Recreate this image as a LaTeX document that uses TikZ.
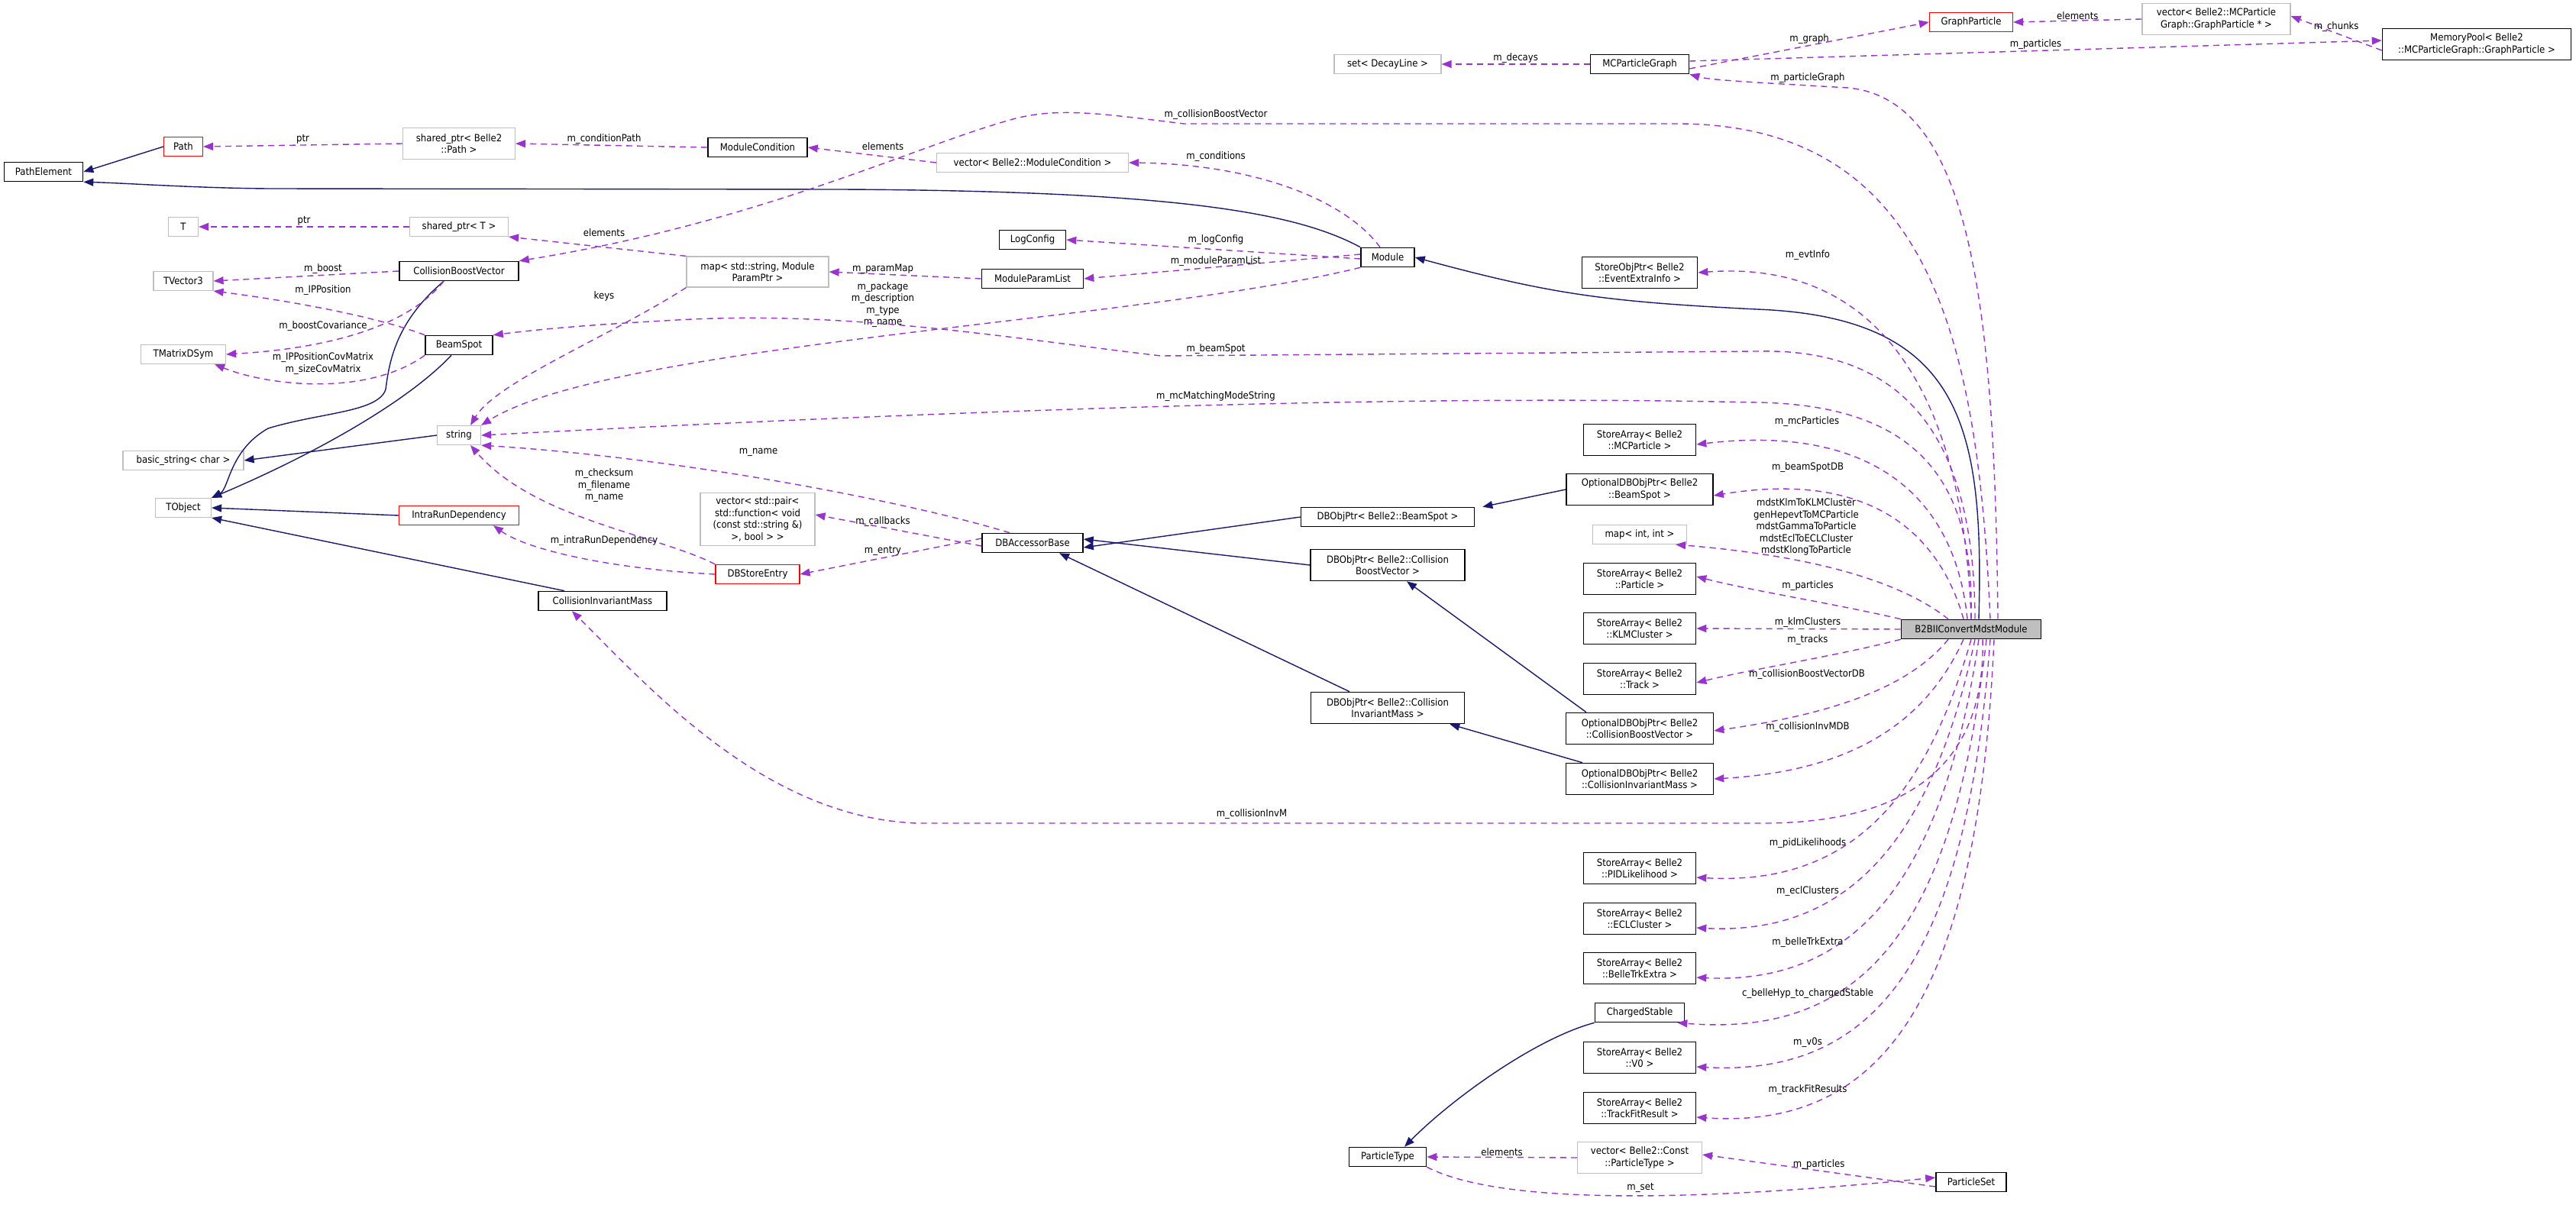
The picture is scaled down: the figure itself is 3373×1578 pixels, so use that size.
\documentclass[tikz,border=0pt]{standalone}
\usepackage{fontspec}
\setmainfont{DejaVu Sans Condensed}
\usetikzlibrary{arrows.meta}
\definecolor{purp}{HTML}{9A32CD}
\definecolor{inhc}{HTML}{191970}
\definecolor{grayb}{HTML}{BFBFBF}
\tikzset{
  box/.style={draw=black,line width=1.6pt,inner sep=3pt,align=center,minimum height=25pt,font=\fontsize{13}{15.5}\selectfont},
  cls/.style={box},
  ext/.style={box,draw=grayb,line width=1.2pt},
  redb/.style={box,draw=red,line width=1.2pt},
  mainb/.style={box,fill=grayb},
  inh/.style={draw=inhc,line width=1.4pt,-{Triangle[length=13pt,width=10pt]}},
  use/.style={draw=purp,line width=1.4pt,dash pattern=on 8pt off 6pt,-{Triangle[length=13pt,width=10pt]}},
  lab/.style={font=\fontsize{13}{15.5}\selectfont,align=center,inner sep=1pt}
}
\begin{document}
\begin{tikzpicture}[x=1pt,y=-1pt]
\useasboundingbox (0,0) rectangle (3373,1578);
% nodes
\node[cls,minimum width=103] (pe) at (57,225) {PathElement};
\node[redb,minimum width=51] (path) at (240,192) {Path};
\node[ext,minimum width=147,minimum height=41] (spp) at (601,188) {shared\_ptr< Belle2\\::Path >};
\node[cls,minimum width=130] (mc) at (992,193) {ModuleCondition};
\node[ext,minimum width=251] (vmc) at (1352,213) {vector< Belle2::ModuleCondition >};
\node[ext,minimum width=39] (T) at (240,297) {T};
\node[ext,minimum width=129] (spt) at (601,297) {shared\_ptr< T >};
\node[ext,minimum width=78] (tv3) at (240,368) {TVector3};
\node[cls,minimum width=156] (cbv) at (601,355) {CollisionBoostVector};
\node[ext,minimum width=186,minimum height=40] (map) at (992,356) {map< std::string, Module\\ParamPtr >};
\node[cls,minimum width=88] (bs) at (601,452) {BeamSpot};
\node[ext,minimum width=111] (tms) at (240,464) {TMatrixDSym};
\node[ext,minimum width=57] (str) at (601,570) {string};
\node[ext,minimum width=158] (bstr) at (240,603) {basic\_string< char >};
\node[ext,minimum width=73] (tobj) at (240,665) {TObject};
\node[redb,minimum width=157] (ird) at (601,675) {IntraRunDependency};
\node[ext,minimum width=150,minimum height=69] (vpair) at (992,680) {vector< std::pair<\\std::function< void\\(const std::string \&)\\>, bool > >};
\node[redb,minimum width=110] (dbse) at (992,752) {DBStoreEntry};
\node[cls,minimum width=168] (cim) at (789,787) {CollisionInvariantMass};
\node[cls,minimum width=87] (logc) at (1352,314) {LogConfig};
\node[cls,minimum width=133] (mpl) at (1352,365) {ModuleParamList};
\node[cls,minimum width=132] (dba) at (1352,711) {DBAccessorBase};
\node[ext,minimum width=140] (setd) at (1817,84) {set< DecayLine >};
\node[cls,minimum width=70] (mod) at (1817,337) {Module};
\node[cls,minimum width=227] (dbbs) at (1817,677) {DBObjPtr< Belle2::BeamSpot >};
\node[cls,minimum width=202,minimum height=41] (dbcbv) at (1817,740) {DBObjPtr< Belle2::Collision\\BoostVector >};
\node[cls,minimum width=201,minimum height=41] (dbcim) at (1817,927) {DBObjPtr< Belle2::Collision\\InvariantMass >};
\node[cls,minimum width=101] (pt) at (1817,1515) {ParticleType};
\node[cls,minimum width=129] (mcpg) at (2147,84) {MCParticleGraph};
\node[cls,minimum width=151,minimum height=41] (evt) at (2147,357) {StoreObjPtr< Belle2\\::EventExtraInfo >};
\node[cls,minimum width=147,minimum height=41] (samcp) at (2147,576) {StoreArray< Belle2\\::MCParticle >};
\node[cls,minimum width=192,minimum height=41] (obs) at (2147,641) {OptionalDBObjPtr< Belle2\\::BeamSpot >};
\node[ext,minimum width=123] (mii) at (2147,700) {map< int, int >};
\node[cls,minimum width=147,minimum height=41] (sap) at (2147,758) {StoreArray< Belle2\\::Particle >};
\node[cls,minimum width=147,minimum height=41] (saklm) at (2147,823) {StoreArray< Belle2\\::KLMCluster >};
\node[cls,minimum width=147,minimum height=41] (satr) at (2147,889) {StoreArray< Belle2\\::Track >};
\node[cls,minimum width=193,minimum height=41] (ocbv) at (2147,954) {OptionalDBObjPtr< Belle2\\::CollisionBoostVector >};
\node[cls,minimum width=193,minimum height=41] (ocim) at (2147,1020) {OptionalDBObjPtr< Belle2\\::CollisionInvariantMass >};
\node[cls,minimum width=147,minimum height=41] (sapid) at (2147,1137) {StoreArray< Belle2\\::PIDLikelihood >};
\node[cls,minimum width=147,minimum height=41] (saecl) at (2147,1203) {StoreArray< Belle2\\::ECLCluster >};
\node[cls,minimum width=147,minimum height=41] (sabte) at (2147,1268) {StoreArray< Belle2\\::BelleTrkExtra >};
\node[cls,minimum width=117] (cs) at (2147,1326) {ChargedStable};
\node[cls,minimum width=147,minimum height=41] (sav0) at (2147,1385) {StoreArray< Belle2\\::V0 >};
\node[cls,minimum width=147,minimum height=41] (satfr) at (2147,1451) {StoreArray< Belle2\\::TrackFitResult >};
\node[ext,minimum width=163,minimum height=41] (vpt) at (2147,1516) {vector< Belle2::Const\\::ParticleType >};
\node[redb,minimum width=109] (gp) at (2581,29) {GraphParticle};
\node[mainb,minimum width=183] (b2) at (2581,824) {B2BIIConvertMdstModule};
\node[cls,minimum width=92] (pset) at (2581,1548) {ParticleSet};
\node[ext,minimum width=194,minimum height=41] (vgp) at (2902,25) {vector< Belle2::MCParticle\\Graph::GraphParticle * >};
\node[cls,minimum width=247,minimum height=41] (mp) at (3243,58) {MemoryPool< Belle2\\::MCParticleGraph::GraphParticle >};

% inheritance
\draw[inh] (path.west) -- (pe.east);
\draw[inh] (mod.north west) .. controls (1700,280) and (1550,250) .. (1100,248) -- (350,247) .. controls (250,246) and (170,240) .. (pe.south east);
\draw[inh] ([xshift=10pt]b2.north) .. controls (2598,560) and (2570,415) .. (2300,405) .. controls (2100,395) and (2030,385) .. (mod.east);
\draw[inh] ([xshift=-20pt]cbv.south) .. controls (520,420) and (510,470) .. (505,510) .. controls (495,540) and (420,540) .. (351,561) .. controls (300,590) and (300,640) .. (tobj.north east);
\draw[inh] ([xshift=-10pt]bs.south) .. controls (530,530) and (400,600) .. (tobj.north east);
\draw[inh] (str.west) -- (bstr.east);
\draw[inh] (ird.west) -- (tobj.east);
\draw[inh] ([xshift=-50pt]cim.north) -- (tobj.south east);
\draw[inh] (dbbs.west) -- ([yshift=-6pt]dba.east);
\draw[inh] (dbcbv.west) -- ([yshift=5pt]dba.east);
\draw[inh] ([xshift=-50pt]dbcim.north) -- ([xshift=35pt]dba.south);
\draw[inh] (obs.west) -- ([xshift=10pt]dbbs.north east);
\draw[inh] ([xshift=-70pt]ocbv.north) -- ([xshift=25pt]dbcbv.south);
\draw[inh] ([xshift=-75pt]ocim.north) -- ([xshift=-20pt]dbcim.south east);
\draw[inh] (cs.south west) .. controls (2010,1360) and (1900,1440) .. ([xshift=22pt]pt.north);

% usage
\draw[use] (spp.west) -- node[lab,above]{ptr} (path.east);
\draw[use] (mc.west) -- (spp.east);
\node[lab] at (791,182) {m\_conditionPath};
\draw[use] (vmc.west) -- (mc.east);
\node[lab] at (1156,192) {elements};
\draw[use] ([xshift=-10pt]mod.north) .. controls (1760,260) and (1640,215) .. (vmc.east);
\node[lab] at (1592,205) {m\_conditions};
\draw[use] (spt.west) -- node[lab,above]{ptr} (T.east);
\draw[use] (map.north west) -- (spt.south east);
\node[lab] at (791,305) {elements};
\draw[use] ([xshift=25pt]b2.north) .. controls (2590,450) and (2530,165) .. (2200,162) -- (1550,162) .. controls (1450,150) and (1390,140) .. (1330,155) .. controls (1200,190) and (1000,290) .. (cbv.north east);
\node[lab] at (1592,150) {m\_collisionBoostVector};
\draw[use] (cbv.west) -- (tv3.east);
\node[lab] at (423,352) {m\_boost};
\draw[use] (bs.north west) .. controls (480,410) and (350,390) .. (tv3.south east);
\node[lab] at (423,380) {m\_IPPosition};
\draw[use] ([xshift=-20pt]cbv.south) .. controls (540,420) and (450,455) .. (tms.east);
\node[lab] at (423,427) {m\_boostCovariance};
\draw[use] (bs.south west) .. controls (480,520) and (350,505) .. ([xshift=-15pt]tms.south east);
\node[lab] at (423,476) {m\_IPPositionCovMatrix\\m\_sizeCovMatrix};
\draw[use] (map.south west) .. controls (800,440) and (650,500) .. ([xshift=15pt]str.north);
\node[lab] at (791,388) {keys};
\draw[use] (mpl.west) -- (map.east);
\node[lab] at (1156,352) {m\_paramMap};
\draw[use] ([yshift=-2pt]mod.west) -- (logc.east);
\node[lab] at (1592,314) {m\_logConfig};
\draw[use] ([yshift=4pt]mod.west) -- (mpl.east);
\node[lab] at (1592,342) {m\_moduleParamList};
\draw[use] (mod.south west) .. controls (1500,420) and (800,450) .. (str.north east);
\node[lab] at (1156,399) {m\_package\\m\_description\\m\_type\\m\_name};
\draw[use] ([xshift=5pt]b2.north) .. controls (2585,580) and (2500,455) .. (2300,460) -- (1520,466) .. controls (1300,440) and (1100,405) .. (870,420) .. controls (760,426) and (700,432) .. (bs.north east);
\node[lab] at (1592,457) {m\_beamSpot};
\draw[use] (b2.north) .. controls (2585,640) and (2520,530) .. (2300,527) .. controls (1900,518) and (1400,530) .. (str.east);
\node[lab] at (1592,519) {m\_mcMatchingModeString};
\draw[use] ([xshift=-30pt]dba.north) .. controls (1200,660) and (900,600) .. (str.south east);
\node[lab] at (993,592) {m\_name};
\draw[use] (dbse.north west) .. controls (860,700) and (700,680) .. ([xshift=15pt]str.south);
\node[lab] at (791,636) {m\_checksum\\m\_filename\\m\_name};
\draw[use] (dbse.west) .. controls (800,745) and (690,720) .. ([xshift=45pt]ird.south);
\node[lab] at (791,708) {m\_intraRunDependency};
\draw[use] ([yshift=-4pt]dba.west) -- ([yshift=6pt]vpair.east);
\node[lab] at (1156,683) {m\_callbacks};
\draw[use] ([yshift=6pt]dba.west) -- (dbse.east);
\node[lab] at (1156,721) {m\_entry};
\draw[use] ([xshift=15pt]b2.south) .. controls (2600,1000) and (2500,1080) .. (2300,1078) -- (1200,1078) .. controls (1000,1070) and (850,900) .. ([xshift=-40pt]cim.south);
\node[lab] at (1639,1066) {m\_collisionInvM};
\draw[use] (mcpg.west) -- node[lab,above]{m\_decays} (setd.east);
\draw[use] ([yshift=-6pt]mcpg.east) -- node[lab,above]{m\_graph} (gp.west);
\draw[use] (vgp.west) -- node[lab,above]{elements} (gp.east);
\draw[use] ([yshift=-8pt]mp.west) -- node[lab,above]{m\_chunks} ([yshift=4pt]vgp.east);
\draw[use] ([yshift=4pt]mcpg.east) -- node[lab,above]{m\_particles} ([yshift=5pt]mp.west);
\draw[use] ([xshift=35pt]b2.north) .. controls (2612,400) and (2580,130) .. (2420,115) .. controls (2300,108) and (2240,105) .. (mcpg.south east);
\node[lab] at (2367,102) {m\_particleGraph};
\draw[use] ([xshift=0pt]b2.north) .. controls (2570,500) and (2450,340) .. (evt.east);
\node[lab] at (2367,334) {m\_evtInfo};
\draw[use] ([xshift=-5pt]b2.north) .. controls (2560,650) and (2450,555) .. ([yshift=-6pt]samcp.east);
\node[lab] at (2366,552) {m\_mcParticles};
\draw[use] ([xshift=-10pt]b2.north) .. controls (2540,700) and (2450,615) .. ([yshift=-8pt]obs.east);
\node[lab] at (2367,612) {m\_beamSpotDB};
\draw[use] ([xshift=-30pt]b2.north) .. controls (2500,770) and (2400,730) .. ([xshift=-15pt]mii.south east);
\node[lab] at (2365,690) {mdstKlmToKLMCluster\\genHepevtToMCParticle\\mdstGammaToParticle\\mdstEclToECLCluster\\mdstKlongToParticle};
\draw[use] (b2.north west) .. controls (2400,790) and (2300,775) .. ([yshift=3pt]sap.east);
\node[lab] at (2367,767) {m\_particles};
\draw[use] (b2.west) -- (saklm.east);
\node[lab] at (2367,815) {m\_klmClusters};
\draw[use] (b2.south west) .. controls (2400,860) and (2300,875) .. ([yshift=-5pt]satr.east);
\node[lab] at (2367,838) {m\_tracks};
\draw[use] ([xshift=-30pt]b2.south) .. controls (2500,900) and (2400,935) .. ([yshift=-3pt]ocbv.east);
\node[lab] at (2366,883) {m\_collisionBoostVectorDB};
\draw[use] ([xshift=-10pt]b2.south) .. controls (2520,950) and (2420,1010) .. (ocim.east);
\node[lab] at (2367,952) {m\_collisionInvMDB};
\draw[use] ([xshift=0pt]b2.south) .. controls (2520,1050) and (2420,1160) .. ([yshift=-12pt]sapid.east);
\node[lab] at (2367,1104) {m\_pidLikelihoods};
\draw[use] ([xshift=5pt]b2.south) .. controls (2530,1100) and (2420,1225) .. ([yshift=-12pt]saecl.east);
\node[lab] at (2367,1167) {m\_eclClusters};
\draw[use] ([xshift=10pt]b2.south) .. controls (2545,1150) and (2430,1290) .. ([yshift=-12pt]sabte.east);
\node[lab] at (2367,1234) {m\_belleTrkExtra};
\draw[use] ([xshift=20pt]b2.south) .. controls (2560,1200) and (2450,1360) .. ([xshift=-10pt]cs.south east);
\node[lab] at (2367,1301) {c\_belleHyp\_to\_chargedStable};
\draw[use] ([xshift=25pt]b2.south) .. controls (2575,1250) and (2460,1410) .. ([yshift=-12pt]sav0.east);
\node[lab] at (2367,1365) {m\_v0s};
\draw[use] ([xshift=30pt]b2.south) .. controls (2590,1300) and (2470,1480) .. ([yshift=-12pt]satfr.east);
\node[lab] at (2367,1427) {m\_trackFitResults};
\draw[use] (vpt.west) -- node[lab,above]{elements} (pt.east);
\draw[use] ([yshift=-6pt]pset.west) -- node[lab,above]{m\_particles} ([yshift=4pt]vpt.east);
\draw[use] (pt.south east) .. controls (1950,1570) and (2150,1580) .. ([yshift=6pt]pset.west);
\node[lab] at (2148,1555) {m\_set};
\end{tikzpicture}
\end{document}
